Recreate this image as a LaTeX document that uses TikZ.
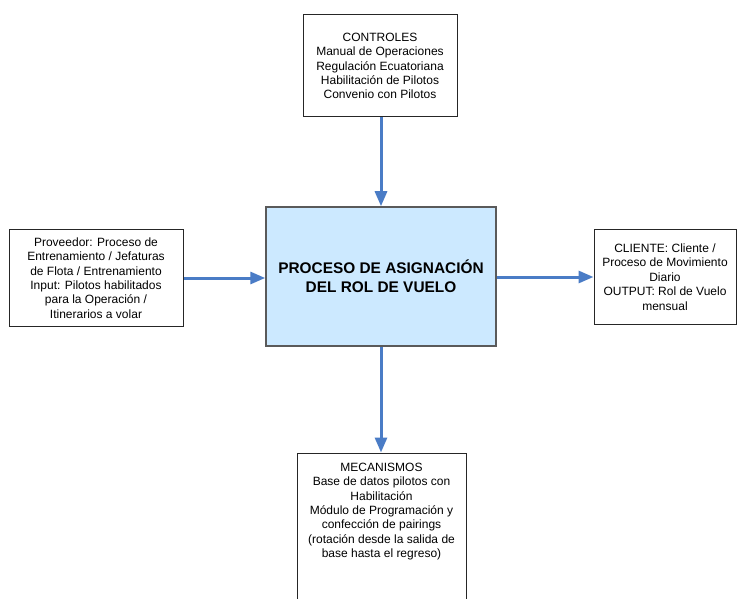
\documentclass[tikz,border=0pt]{standalone}
\usepackage{fontspec}
\setmainfont{Liberation Sans}
\usetikzlibrary{arrows.meta}
\definecolor{flowblue}{HTML}{4A7CC6}
\definecolor{procfill}{HTML}{CCE9FF}
\definecolor{procedge}{HTML}{5A5A5A}
\tikzset{
  infobox/.style={draw=black!85, line width=1pt, fill=white, align=center,
    font=\fontsize{12}{14.4}\selectfont, inner sep=2pt},
  procbox/.style={draw=procedge, line width=1.5pt, fill=procfill, align=center,
    font=\fontsize{15.4}{18.5}\selectfont\bfseries},
  flow/.style={draw=flowblue, line width=3pt,
    -{Triangle[length=15pt,width=12pt]}}
}
\begin{document}
\begin{tikzpicture}[x=1pt,y=-1pt]
  \useasboundingbox (0,0) rectangle (737,599);
  \clip (0,0) rectangle (737,599);
  \fill[white] (0,0) rectangle (737,599);

  % central process
  \node[procbox, minimum width=230pt, minimum height=139pt] (proc) at (381,276.5)
    {PROCESO DE ASIGNACIÓN\\DEL ROL DE VUELO};

  % controls, input, output
  \node[infobox, minimum width=154pt, minimum height=102pt] (ctrl) at (380,66)
    {CONTROLES\\Manual de Operaciones\\Regulación Ecuatoriana\\Habilitación de Pilotos\\Convenio con Pilotos};
  \node[infobox, minimum width=174pt, minimum height=96pt] (prov) at (96,278)
    {Proveedor: Proceso de\\Entrenamiento / Jefaturas\\de Flota / Entrenamiento\\Input: Pilotos habilitados\\para la Operación /\\Itinerarios a volar};
  \node[infobox, minimum width=142pt, minimum height=94pt] (cli) at (665,277)
    {CLIENTE: Cliente /\\Proceso de Movimiento\\Diario\\OUTPUT: Rol de Vuelo\\mensual};

  % mechanisms: frame runs past the lower edge, text sits at its top
  \node[infobox, minimum width=169pt, minimum height=170pt] (mec) at (381.5,538) {};
  \node[infobox, draw=none, fill=none, anchor=north] (mectxt) at ([yshift=-8pt]mec.north)
    {MECANISMOS\\Base de datos pilotos con\\Habilitación\\Módulo de Programación y\\confección de pairings\\(rotación desde la salida de\\base hasta el regreso)};

  % flows
  \draw[flow] (ctrl.south -| proc.north) -- (proc.north);
  \draw[flow] (prov.east) -- (proc.west |- prov.east);
  \draw[flow] (proc.east |- cli.west) -- (cli.west);
  \draw[flow] (proc.south) -- (mec.north -| proc.south);
\end{tikzpicture}
\end{document}
